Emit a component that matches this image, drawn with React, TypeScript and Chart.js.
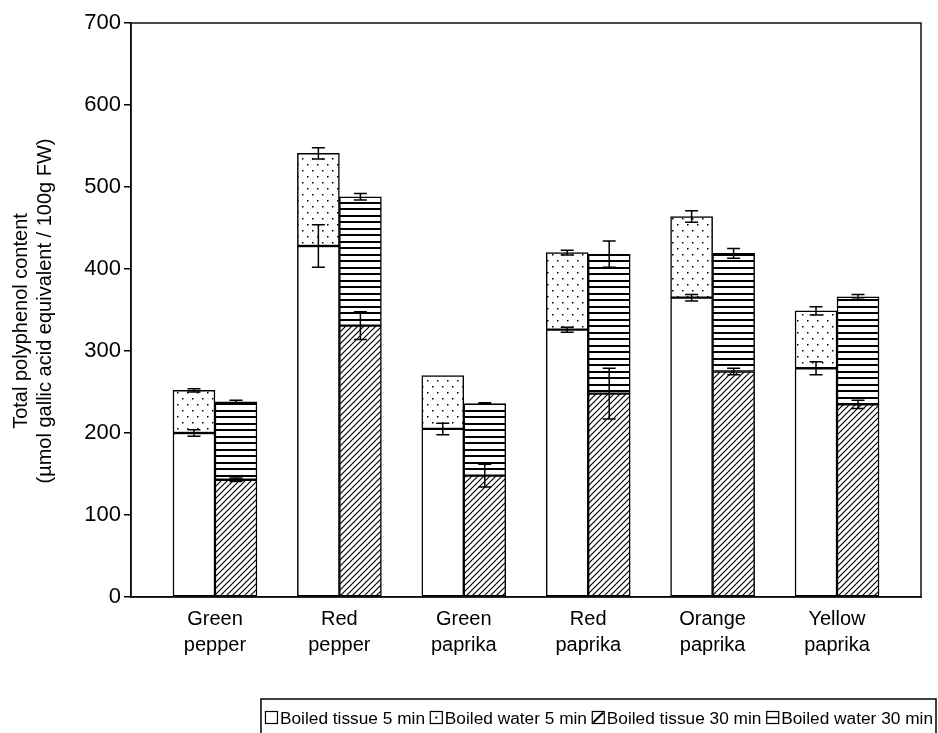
import React, { useEffect, useRef } from 'react';
import { Chart, registerables } from 'chart.js';

Chart.register(...registerables);

// ---------- data ----------
const categories = [
  ['Green', 'pepper'],
  ['Red', 'pepper'],
  ['Green', 'paprika'],
  ['Red', 'paprika'],
  ['Orange', 'paprika'],
  ['Yellow', 'paprika'],
];
const seriesLabels = ['Boiled tissue 5 min', 'Boiled water 5 min', 'Boiled tissue 30 min', 'Boiled water 30 min'];

// segment values (stacked)
const tissue5 = [200, 428, 205, 326, 365, 279];
const water5 = [52, 113, 65, 94, 99, 70];
const tissue30 = [143, 331, 148, 248, 275, 235];
const water30 = [95, 157, 88, 170, 144, 131];

// error (± at top of each segment)
const errTissue5 = [4, 26, 7, 3, 4, 8];
const errWater5 = [2, 7, 0, 3, 7, 5];
const errTissue30 = [2, 17, 14, 31, 4, 5];
const errWater30 = [2, 4, 1, 16, 6, 3];

const yTicks = [0, 100, 200, 300, 400, 500, 600, 700];
const yTitle = ['Total polyphenol content', '(\u00b5mol gallic acid equivalent / 100g FW)'];

const FONT = '"Liberation Sans", Arial, Helvetica, sans-serif';
const CAT_EXTRA = 0.175; // extra side padding of the category axis (in category units)

function makePattern(kind: string): CanvasPattern | string {
  const c = document.createElement('canvas');
  const ctx = c.getContext('2d');
  if (!ctx) return '#fff';
  if (kind === 'dots') {
    c.width = 10; c.height = 12;
    ctx.fillStyle = '#fff'; ctx.fillRect(0, 0, 10, 12);
    ctx.fillStyle = '#000';
    ctx.fillRect(2, 2, 1.5, 1.5);
    ctx.fillRect(7, 8, 1.5, 1.5);
  } else if (kind === 'diag') {
    c.width = 6; c.height = 6;
    ctx.fillStyle = '#fff'; ctx.fillRect(0, 0, 6, 6);
    ctx.strokeStyle = '#000'; ctx.lineWidth = 1.2;
    ctx.beginPath();
    ctx.moveTo(0, 6); ctx.lineTo(6, 0);
    ctx.moveTo(-1, 1); ctx.lineTo(1, -1);
    ctx.moveTo(5, 7); ctx.lineTo(7, 5);
    ctx.stroke();
  } else {
    c.width = 4; c.height = 13;
    ctx.fillStyle = '#fff'; ctx.fillRect(0, 0, 4, 13);
    ctx.fillStyle = '#000';
    ctx.fillRect(0, 0, 4, 2);
    ctx.fillRect(0, 7, 4, 2);
  }
  return ctx.createPattern(c, 'repeat') || '#fff';
}

const padCategoryPlugin = {
  id: 'padCategory',
  afterLayout(chart: any) {
    const s = chart.scales.x;
    if (!s) return;
    s._startValue = s._startValue - CAT_EXTRA;
    s._valueRange = s._valueRange + 2 * CAT_EXTRA;
  },
};

const errorBarPlugin = {
  id: 'errorBars',
  afterDatasetsDraw(chart: any) {
    const errs = [errTissue5, errWater5, errTissue30, errWater30];
    const yScale = chart.scales.y;
    const ctx = chart.ctx;
    ctx.save();
    ctx.strokeStyle = '#000';
    ctx.lineWidth = 1.5;
    chart.data.datasets.forEach((ds: any, i: number) => {
      const meta = chart.getDatasetMeta(i);
      meta.data.forEach((bar: any, j: number) => {
        const e = errs[i][j];
        if (!e) return;
        const base = i % 2 === 1 ? chart.data.datasets[i - 1].data[j] : 0;
        const top = base + ds.data[j];
        const yHi = yScale.getPixelForValue(top + e);
        const yLo = yScale.getPixelForValue(top - e);
        const x = bar.x;
        ctx.beginPath();
        ctx.moveTo(x, yHi); ctx.lineTo(x, yLo);
        ctx.moveTo(x - 6.5, yHi); ctx.lineTo(x + 6.5, yHi);
        ctx.moveTo(x - 6.5, yLo); ctx.lineTo(x + 6.5, yLo);
        ctx.stroke();
      });
    });
    ctx.restore();
  },
};

const framePlugin = {
  id: 'frame',
  afterDraw(chart: any) {
    const { ctx, chartArea } = chart;
    ctx.save();
    ctx.strokeStyle = '#111';
    ctx.lineWidth = 1.5;
    ctx.strokeRect(chartArea.left, chartArea.top, chartArea.right - chartArea.left, chartArea.bottom - chartArea.top);
    ctx.restore();
  },
};

const yTitlePlugin = {
  id: 'yTitle',
  afterDraw(chart: any) {
    const ctx = chart.ctx;
    const centersX = [21, 45];
    const centersY = [321, 311];
    ctx.save();
    ctx.font = `20px ${FONT}`;
    ctx.fillStyle = '#000';
    ctx.textAlign = 'center';
    ctx.textBaseline = 'middle';
    yTitle.forEach((t, i) => {
      ctx.save();
      ctx.translate(centersX[i], centersY[i]);
      ctx.rotate(-Math.PI / 2);
      ctx.fillText(t, 0, 0);
      ctx.restore();
    });
    ctx.restore();
  },
};

const legendPlugin = {
  id: 'boxLegend',
  afterDraw(chart: any) {
    const ctx = chart.ctx;
    ctx.save();
    ctx.font = `17.3px ${FONT}`;
    const icon = 13;
    const gap = 2;
    const space = ctx.measureText(' ').width;
    const widths = seriesLabels.map((t) => icon + gap + ctx.measureText(t).width);
    const total = widths.reduce((a, b) => a + b, 0) + space * (seriesLabels.length - 1);
    const right = 933;
    let x = right - total;
    const cy = 718;
    ctx.strokeStyle = '#000';
    ctx.lineWidth = 1.5;
    ctx.strokeRect(x - 4, 699, 936 - (x - 4), 80);
    ctx.fillStyle = '#000';
    ctx.textBaseline = 'middle';
    ctx.textAlign = 'left';
    seriesLabels.forEach((t, i) => {
      const ix = x + 0.5, iy = cy - icon / 2;
      ctx.lineWidth = 1.2;
      ctx.strokeRect(ix, iy, icon - 1, icon - 1);
      ctx.beginPath();
      if (i === 1) {
        ctx.fillRect(ix + icon / 2 - 1.5, iy + icon / 2 - 1.5, 2, 2);
      } else if (i === 2) {
        ctx.lineWidth = 2;
        ctx.moveTo(ix + 1, iy + icon - 2); ctx.lineTo(ix + icon - 2, iy + 1);
        ctx.stroke();
      } else if (i === 3) {
        ctx.lineWidth = 1.5;
        ctx.moveTo(ix, iy + (icon - 1) / 2); ctx.lineTo(ix + icon - 1, iy + (icon - 1) / 2);
        ctx.stroke();
      }
      ctx.fillText(t, x + icon + gap, cy + 1);
      x += widths[i] + space;
    });
    ctx.restore();
  },
};

export default function App() {
  const ref = useRef<HTMLCanvasElement>(null);

  useEffect(() => {
    if (!ref.current) return;
    Chart.defaults.font.family = FONT;
    Chart.defaults.color = '#000';
    const chart = new Chart(ref.current, {
      type: 'bar',
      data: {
        labels: categories as any,
        datasets: [
          { label: seriesLabels[0], data: tissue5, stack: 's5', backgroundColor: '#fff' },
          { label: seriesLabels[1], data: water5, stack: 's5', backgroundColor: makePattern('dots') as any },
          { label: seriesLabels[2], data: tissue30, stack: 's30', backgroundColor: makePattern('diag') as any },
          { label: seriesLabels[3], data: water30, stack: 's30', backgroundColor: makePattern('hlines') as any },
        ].map((d) => ({
          ...d,
          borderColor: '#000',
          borderWidth: 1.5,
          borderSkipped: false,
          barThickness: 42,
        })) as any,
      },
      options: {
        responsive: false,
        animation: false,
        layout: { padding: { top: 23, right: 17, bottom: 0, left: 0 } },
        plugins: {
          legend: { display: false },
          tooltip: { enabled: false },
        },
        scales: {
          x: {
            stacked: true,
            afterFit: (s: any) => { s.height = 136; },
            ticks: { color: '#000', font: { size: 20, lineHeight: 1.3 }, padding: 9, maxRotation: 0, autoSkip: false },
            grid: { display: false, drawTicks: false },
            border: { display: true, color: '#000', width: 1.5 },
          },
          y: {
            stacked: true,
            min: 0,
            max: 700,
            afterFit: (s: any) => { s.width = 131; },
            afterBuildTicks: (s: any) => { s.ticks = yTicks.map((v) => ({ value: v })); },
            ticks: { color: '#000', font: { size: 22 }, padding: 3 },
            grid: { drawOnChartArea: false, drawTicks: true, tickLength: 7, color: '#000', lineWidth: 1.5 },
            border: { display: true, color: '#000', width: 1.5 },
            title: { display: false },
          },
        },
      } as any,
      plugins: [padCategoryPlugin, errorBarPlugin, framePlugin, yTitlePlugin, legendPlugin],
    });
    return () => chart.destroy();
  }, []);

  return (
    <div style={{ position: 'fixed', left: 0, top: 0, width: 938, height: 733, background: '#fff' }}>
      <canvas ref={ref} width={938} height={733} style={{ display: 'block' }} />
    </div>
  );
}
